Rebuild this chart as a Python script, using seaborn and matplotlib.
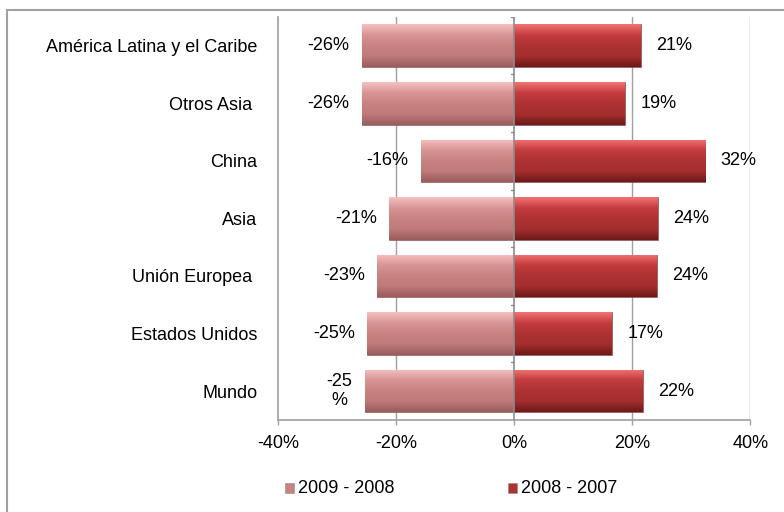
import numpy as np
import pandas as pd
import seaborn as sns
import matplotlib.pyplot as plt
from matplotlib.colors import LinearSegmentedColormap
from matplotlib.patches import Rectangle
from matplotlib.ticker import FuncFormatter

regions = ['América Latina y el Caribe', 'Otros Asia ', 'China', 'Asia',
           'Unión Europea ', 'Estados Unidos', 'Mundo']
cambio_09_08 = [-25.9, -25.9, -15.8, -21.2, -23.2, -24.9, -25.3]
cambio_08_07 = [21.4, 18.8, 32.4, 24.4, 24.2, 16.6, 21.8]
labels_09_08 = ['-26%', '-26%', '-16%', '-21%', '-23%', '-25%', '-25\n%']
labels_08_07 = ['21%', '19%', '32%', '24%', '24%', '17%', '22%']
series = ['2009 - 2008', '2008 - 2007']

df = pd.concat([
    pd.DataFrame({'region': regions, 'valor': cambio_09_08, 'serie': series[0]}),
    pd.DataFrame({'region': regions, 'valor': cambio_08_07, 'serie': series[1]}),
])

sns.set_style('white')
plt.rcParams['font.family'] = ['Liberation Sans', 'DejaVu Sans']
plt.rcParams['text.color'] = 'black'

colores = {series[0]: '#c98282', series[1]: '#ae3232'}
grad = {
    series[0]: ['#f6c0c0', '#d89494', '#c98282', '#c07a7a', '#9a5c5c'],
    series[1]: ['#f47272', '#c43c3c', '#ae3232', '#a52e2e', '#6e1a1a'],
}

fig = plt.figure(figsize=(7.84, 5.12), dpi=100)
ax = fig.add_axes([0.355, 0.18, 0.602, 0.787])

sns.barplot(data=df, y='region', x='valor', hue='serie', dodge=False,
            palette=colores, width=0.74, order=regions, hue_order=series,
            legend=False, ax=ax, zorder=3)

# degradado tipo bisel en cada barra
for bar in list(ax.patches):
    serie = series[0] if bar.get_x() + bar.get_width() <= 0.01 else series[1]
    x0, y0 = bar.get_x(), bar.get_y()
    w, h = bar.get_width(), bar.get_height()
    if w == 0:
        continue
    cmap = LinearSegmentedColormap.from_list('g', grad[serie])
    img = ax.imshow(np.linspace(0, 1, 64).reshape(-1, 1), cmap=cmap, aspect='auto',
                    extent=[x0, x0 + w, y0 + h, y0], zorder=3.5,
                    interpolation='bicubic')
    img.set_clip_path(bar)
    bar.set_edgecolor('#7a3a3a')
    bar.set_linewidth(0.4)

ax.set_xlim(-40, 40)
ax.set_ylim(len(regions) - 0.5, -0.5)
ax.set_xticks([-40, -20, 0, 20, 40])
ax.xaxis.set_major_formatter(FuncFormatter(lambda v, p: f'{v:.0f}%'))
ax.set_xlabel('')
ax.set_ylabel('')

for v in [-20, 20, 40]:
    ax.axvline(v, color='#a0a0a0', lw=1, zorder=1)
ax.axvline(0, color='#8c8c8c', lw=1.2, zorder=4)
for k in range(len(regions) + 1):
    ax.plot([-0.6, 0], [k - 0.5, k - 0.5], color='#8c8c8c', lw=1, zorder=4)

for s in ['top', 'right']:
    ax.spines[s].set_visible(False)
for s in ['left', 'bottom']:
    ax.spines[s].set_color('#a0a0a0')
    ax.spines[s].set_linewidth(1.2)

ax.tick_params(axis='x', length=3.6, width=1, color='#a0a0a0', pad=7,
               labelsize=13, labelcolor='black', bottom=True)
ax.tick_params(axis='y', length=0, pad=15, labelsize=13, labelcolor='black')

for i in range(len(regions)):
    ax.annotate(labels_09_08[i], (cambio_09_08[i], i), xytext=(-9, 0),
                textcoords='offset points', ha='right', va='center',
                multialignment='center', fontsize=13, zorder=5, linespacing=1.1,
                color='black')
    ax.annotate(labels_08_07[i], (cambio_08_07[i], i), xytext=(11, 0),
                textcoords='offset points', ha='left', va='center',
                fontsize=13, zorder=5, color='black')

# leyenda
for xl, s in zip([0.364, 0.648], series):
    fig.patches.append(Rectangle((xl, 0.038), 0.011, 0.018, transform=fig.transFigure,
                                 facecolor=colores[s], edgecolor='#888888', lw=0.4))
    fig.text(xl + 0.016, 0.046, s, fontsize=13, va='center', ha='left', color='black')

# marco exterior
fig.patches.append(Rectangle((0.009, -0.1), 1.2, 1.08, transform=fig.transFigure,
                             fill=False, edgecolor='#a0a0a0', lw=1.5))

fig.savefig('out.png', dpi=100)
